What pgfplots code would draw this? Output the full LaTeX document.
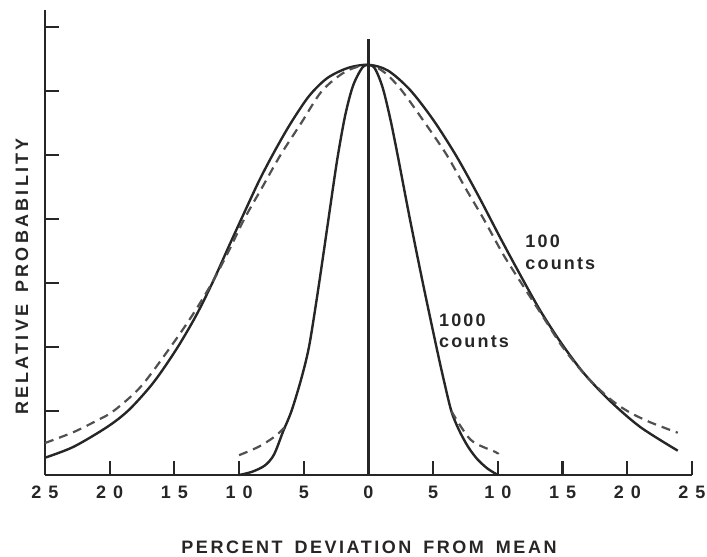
\documentclass[border=0pt]{standalone}
\usepackage{fontspec}
\setmainfont{Liberation Sans}[BoldFont={Liberation Sans Bold}]
\newfontfamily\lsA[LetterSpace=9]{Liberation Sans Bold}
\newfontfamily\lsB[LetterSpace=12]{Liberation Sans Bold}
\newfontfamily\lsX[LetterSpace=14]{Liberation Sans Bold}
\newfontfamily\lsY[LetterSpace=18]{Liberation Sans Bold}
\usepackage{pgfplots}
\pgfplotsset{compat=1.18}
\definecolor{ink}{HTML}{262626}
\definecolor{dsh}{HTML}{505050}
\begin{document}
\begin{tikzpicture}
\begin{axis}[
  scale only axis, width=323.5pt, height=232.5pt,
  xmin=-25, xmax=25, ymin=0, ymax=7.266,
  axis lines*=left,
  axis line style={ink, line width=1.2pt},
  xtick={-25,-20,...,25}, xtick pos=bottom,
  xticklabels={2\hspace{3.5pt}5,2\hspace{3.5pt}0,1\hspace{3.5pt}5,1\hspace{3.5pt}0,5,0,5,1\hspace{3.5pt}0,1\hspace{3.5pt}5,2\hspace{3.5pt}0,2\hspace{3.5pt}5},
  xticklabel style={font=\lsA\fontsize{9}{10}\selectfont, text=ink, anchor=north, yshift=-2pt},
  ytick={1,...,7}, yticklabels={}, ytick pos=left,
  tick align=inside, major tick length=7pt,
  tick style={ink, line width=1.1pt},
  clip=false,
]
% 100 counts, solid
\addplot[ink, line width=1.2pt, smooth] coordinates {
(-25,0.27) (-22.8,0.44) (-20.2,0.75) (-18.5,1.02) (-16.6,1.45) (-14.8,1.98) (-13.3,2.5) (-12,3.03) (-10.8,3.57) (-9.6,4.1) (-8.4,4.62) (-7.2,5.08) (-6,5.5) (-4.6,5.92) (-3.2,6.2) (-1.6,6.36) (0,6.41) (1.5,6.32) (3.2,6.02) (5,5.55) (6.8,4.98) (8.5,4.36) (10.2,3.7) (11.8,3.1) (13.3,2.56) (14.9,2.06) (16.6,1.6) (18.6,1.17) (21,0.75) (23.9,0.38)};
% 100 counts, dashed
\addplot[dsh, line width=1.1pt, smooth, dash pattern=on 4.5pt off 3pt] coordinates {
(-25,0.5) (-22.8,0.67) (-21,0.85) (-19.7,1.0) (-17.6,1.38) (-15.3,2.0) (-13.6,2.5) (-12.1,3.0) (-10.8,3.5) (-9.6,4.0) (-8.2,4.5) (-6.8,5.0) (-5.2,5.5) (-3.6,6.0) (-1.8,6.3) (0,6.41) (1.3,6.28) (2.6,6.0) (4.3,5.52) (6.05,5.0) (7.5,4.48) (8.9,4.0) (10.4,3.45) (11.9,2.97) (13.4,2.5) (15,2.0) (16.8,1.55) (18.6,1.2) (20,1.0) (21.7,0.83) (23.9,0.66)};
% 1000 counts, solid
\addplot[ink, line width=1.2pt, smooth] coordinates {
(-10,0) (-9,0.05) (-8,0.15) (-7.3,0.32) (-6.6,0.68) (-5.95,1.0) (-5.2,1.5) (-4.6,2.0) (-4.0,2.75) (-3.45,3.5) (-2.95,4.2) (-2.4,4.95) (-1.8,5.62) (-1.2,6.08) (-0.5,6.36) (0,6.41) (0.5,6.35) (1.1,6.05) (1.7,5.55) (2.25,5.0) (3.2,4.0) (4.2,3.0) (5.25,2.0) (5.8,1.5) (6.4,1.0) (7.0,0.7) (7.7,0.44) (8.4,0.25) (9.2,0.1) (10,0)};
% 1000 counts, dashed tails
\addplot[dsh, line width=1.1pt, smooth, dash pattern=on 4.5pt off 3pt] coordinates {
(-10,0.31) (-8.5,0.44) (-7.25,0.6) (-6.5,0.74)};
\addplot[dsh, line width=1.1pt, smooth, dash pattern=on 4.5pt off 3pt] coordinates {
(6.4,1.0) (7.9,0.55) (9.8,0.36) (10,0.33)};
% mean line
\addplot[ink, line width=1.1pt] coordinates {(0,0) (0,6.81)};
\node[anchor=north west, inner sep=0pt, align=left, text=ink, font=\lsB\fontsize{9}{10.8}\selectfont] at (axis cs:12.1,3.75) {100\\counts};
\node[anchor=north west, inner sep=0pt, align=left, text=ink, font=\lsB\fontsize{9}{10.8}\selectfont] at (axis cs:5.43,2.53) {1000\\counts};
\end{axis}
\node[anchor=base, inner sep=0pt, text=ink, font=\lsX\fontsize{9}{10}\selectfont] at (162pt,-39.2pt) {PERCENT\hspace{6pt}DEVIATION\hspace{6pt}FROM\hspace{6pt}MEAN};
\node[rotate=90, anchor=base, inner sep=0pt, text=ink, font=\lsY\fontsize{9}{10}\selectfont] at (-8.5pt,99.25pt) {RELATIVE\hspace{6pt}PROBABILITY};
\pgfresetboundingbox
\path[use as bounding box] (-22.5pt,-41pt) rectangle (331pt,237.5pt);
\end{tikzpicture}
\end{document}
